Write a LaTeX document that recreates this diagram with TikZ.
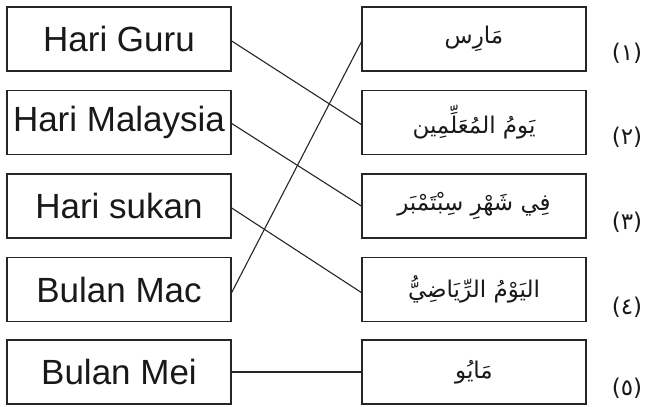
\documentclass[tikz,border=0pt]{standalone}
\usepackage{fontspec}
\setmainfont{Liberation Sans}
\newfontfamily\arabicfont[Script=Arabic]{DejaVu Sans}
\TeXXeTstate=1
\tikzset{
        malay/.style={draw=black!85, line width=1.4pt, minimum width=224pt, minimum height=64pt, inner sep=0pt, text=black!90, font=\fontsize{35}{40}\selectfont},
        arab/.style={draw=black!85, line width=1.4pt, minimum width=224pt, minimum height=64pt, inner sep=0pt, text=black!90, font=\arabicfont\fontsize{23}{28}\selectfont},
        num/.style={text=black!90, font=\arabicfont\fontsize{23}{28}\selectfont},
        match/.style={draw=black!85, line width=1.1pt}
          }
\begin{document}
\begin{tikzpicture}[x=1pt, y=-1pt]
        \useasboundingbox (0,0) rectangle (651,407);
        \node[malay] (guru) at (119,39) {Hari Guru};
        \node[malay] (malaysia) at (119,122.5) {Hari Malaysia};
        \node[malay] (sukan) at (119,206) {Hari sukan};
        \node[malay] (mac) at (119,289.5) {Bulan Mac};
        \node[malay] (mei) at (119,372) {Bulan Mei};
        \node[arab] (maris) at (474,39) {\beginR مَارِس\endR};
        \node[arab] (muallimin) at (474,122.5) {\beginR يَومُ المُعَلِّمِين\endR};
        \node[arab] (september) at (474,206) {\beginR فِي شَهْرِ سِبْتَمْبَر\endR};
        \node[arab] (riyadi) at (474,289.5) {\beginR اليَوْمُ الرِّيَاضِيُّ\endR};
        \node[arab] (mayu) at (474,372) {\beginR مَايُو\endR};
        \node[num] (n1) at (627,53) {(١)};
        \node[num] (n2) at (627,137) {(٢)};
        \node[num] (n3) at (627,222) {(٣)};
        \node[num] (n4) at (627,307) {(٤)};
        \node[num] (n5) at (627,388) {(٥)};
        \draw[match] ([yshift=-2pt]guru.east) -- ([yshift=-2pt]muallimin.west);
        \draw[match] ([yshift=-1pt]malaysia.east) -- (september.west);
        \draw[match] ([yshift=-2pt]sukan.east) -- ([yshift=-3pt]riyadi.west);
        \draw[match] ([yshift=-3pt]mac.east) -- ([yshift=-3pt]maris.west);
        \draw[match] (mei.east) -- (mayu.west);
\end{tikzpicture}
\end{document}
